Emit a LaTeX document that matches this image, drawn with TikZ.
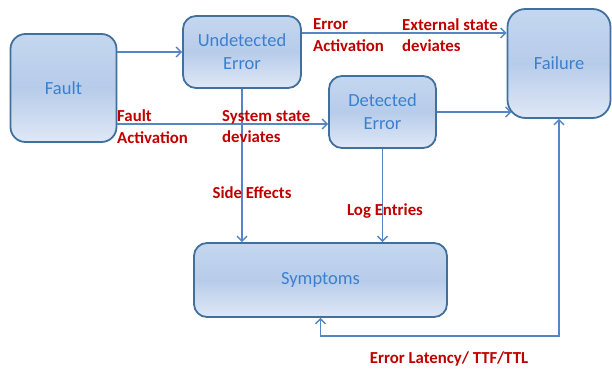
\documentclass[tikz,border=0pt]{standalone}
\usepackage{fontspec}
\setmainfont{Carlito}
\usetikzlibrary{arrows.meta}
\definecolor{boxline}{HTML}{41709C}
\definecolor{boxtop}{HTML}{C4D7F0}
\definecolor{boxmid}{HTML}{B7CCEA}
\definecolor{boxbot}{HTML}{DFE8F6}
\definecolor{boxtext}{HTML}{3C7FCF}
\definecolor{linkblue}{HTML}{5585C2}
\definecolor{labelred}{HTML}{C00000}
\tikzset{
  stage/.style={draw=boxline, line width=1.8pt, rounded corners=#1,
    top color=boxtop, bottom color=boxbot, middle color=boxmid,
    text=boxtext, align=center, inner sep=0pt,
    font=\fontsize{18.5}{23}\selectfont},
  stage/.default=13pt,
  link/.style={draw=linkblue, line width=1.6pt,
    -{Straight Barb[length=5pt,width=10pt,line width=1.4pt]}},
  biglink/.style={draw=linkblue, line width=1.6pt,
    {Straight Barb[length=5pt,width=10pt,line width=1.4pt]}-{Straight Barb[length=5pt,width=10pt,line width=1.4pt]}},
  tag/.style={text=labelred, inner sep=0pt, align=left,
    font=\bfseries\fontsize{16.8}{21.5}\selectfont},
}
\begin{document}
\begin{tikzpicture}[x=1pt,y=-1pt]
\useasboundingbox (0,0) rectangle (612,369);
% stages
\node[stage=15pt, minimum width=106pt, minimum height=108pt] (fault) at (63.5,88) {Fault};
\node[stage, minimum width=118pt, minimum height=72pt] (undet) at (242,52) {Undetected\\Error};
\node[stage=18pt, minimum width=103pt, minimum height=109pt] (fail) at (559,63.5) {Failure};
\node[stage, minimum width=107pt, minimum height=72pt] (det) at (382.5,112) {Detected\\Error};
\node[stage, minimum width=253pt, minimum height=74pt] (sym) at (320.5,280) {Symptoms};
% anchor points on the stage borders
\coordinate (detin) at ([yshift=-12pt]det.west);
\coordinate (undout) at ([yshift=19pt]undet.east);
% connectors
\draw[link] (fault.east |- undet.west) -- (undet.west);
\draw[link] (fault.east |- detin) -- (detin);
\draw[link] (undout) -- (fail.west |- undout);
\draw[link] (det.east) -- ([xshift=5pt]fail.west |- det.east);
\draw[link] (undet.south) -- (undet.south |- sym.north);
\draw[link] (det.south) -- (det.south |- sym.north);
\draw[biglink] (sym.south) -- ++(0,18) -| (fail.south);
% labels
\node[tag, anchor=west] (lfa) at (117,126.5) {Fault\\Activation};
\node[tag, anchor=west] (lss) at (222,126.5) {System state\\deviates};
\node[tag, anchor=west] (lea) at (313,35) {Error\\Activation};
\node[tag, anchor=west] (les) at (402,35) {External state\\deviates};
\node[tag] (lse) at (252,193) {Side Effects};
\node[tag] (lle) at (385,211) {Log Entries};
\node[tag] (lel) at (449,359) {Error Latency/ TTF/TTL};
\end{tikzpicture}
\end{document}
